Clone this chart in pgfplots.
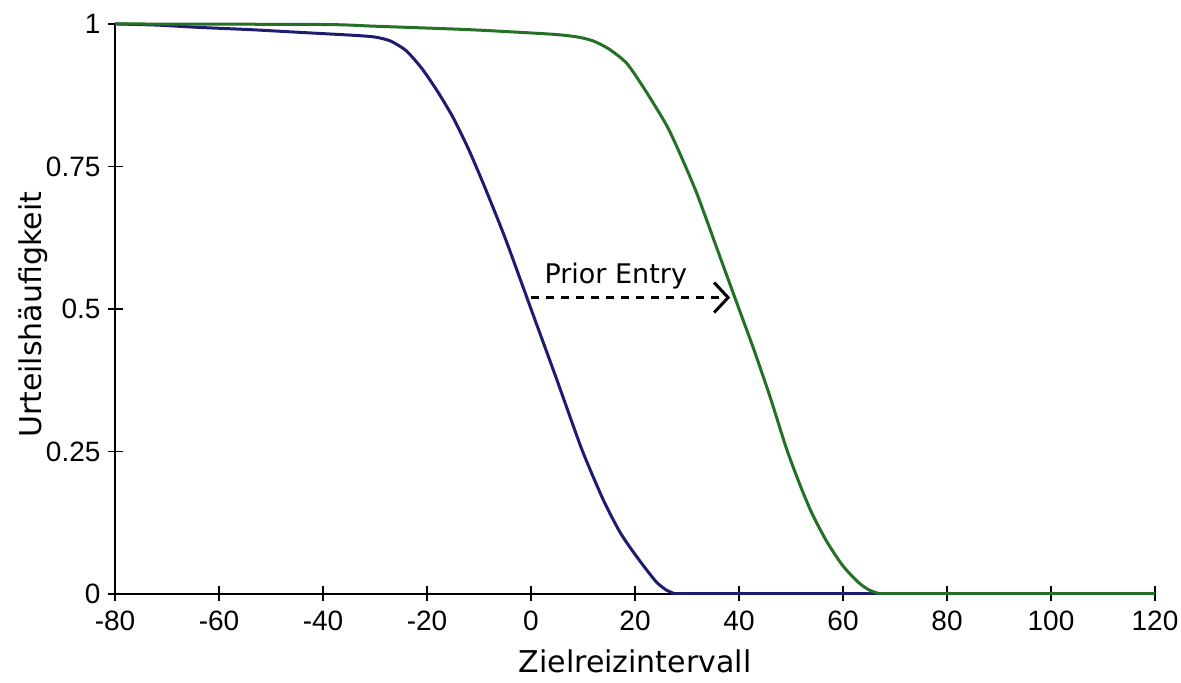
\documentclass[border=0pt]{standalone}
\usepackage{fontspec}
\setmainfont{DejaVu Sans}
\newfontfamily\ticfont{Liberation Sans}
\usepackage{pgfplots}
\pgfplotsset{compat=1.18}
\usetikzlibrary{arrows.meta}
\definecolor{cblue}{RGB}{30,28,110}
\definecolor{cgreen}{RGB}{36,112,36}
\begin{document}
\begin{tikzpicture}
\begin{axis}[
  width=520pt, height=285pt, scale only axis,
  xmin=-80, xmax=120, ymin=0, ymax=1,
  axis x line=bottom, axis y line=left,
  axis line style={-, line width=0.8pt, black},
  xtick={-80,-60,...,120},
  xticklabels={-80,-60,-40,-20,0,20,40,60,80,100,120},
  ytick={0,0.25,0.5,0.75,1},
  yticklabels={0,0.25,0.5,0.75,1},
  tick align=center, major tick length=7.5pt,
  tick style={line width=0.8pt, black},
  tick label style={font=\ticfont\fontsize{14}{16}\selectfont},
  xticklabel style={yshift=-1pt},
  yticklabel style={xshift=0pt},
  xlabel={Zielreizintervall}, ylabel={Urteilshäufigkeit},
  label style={font=\fontsize{15}{17}\selectfont},
  xlabel style={yshift=-3pt},
  ylabel style={yshift=-8pt, xshift=-3pt},
  clip=false,
]
\addplot[cblue, line width=1.5pt, smooth, tension=0.4] coordinates {
(-80,1.0) (-72,0.998) (-64,0.994) (-54,0.99) (-44,0.985) (-34,0.98) (-30,0.977)
(-27,0.97) (-24,0.953) (-21,0.922) (-18,0.882) (-15,0.836) (-12,0.78) (-9,0.716) (-5,0.625)
(0,0.5) (5,0.375) (9.8,0.253) (13.9,0.165) (17,0.11) (19.4,0.077) (22,0.045)
(24.2,0.02) (26,0.007) (27.7,0)
};
\addplot[cblue, line width=1.5pt] coordinates {(27.7,0) (120,0)};
\addplot[cgreen, line width=1.5pt, smooth, tension=0.4] coordinates {
(-80,1.0) (-40,0.999) (-30,0.996) (-12,0.99) (4,0.982) (9,0.977) (12,0.97) (15,0.956)
(18.5,0.93) (22.3,0.879) (26.2,0.82) (29,0.765) (32,0.70) (36,0.6) (40,0.5)
(43,0.425) (46,0.345) (49.2,0.253) (52,0.185) (54.2,0.138) (57,0.09) (60,0.049)
(63,0.02) (65,0.007) (67.1,0)
};
\addplot[cgreen, line width=1.5pt] coordinates {(67.1,0) (120,0)};
\draw[line width=1.5pt, dash pattern=on 4pt off 3.5pt, -{Straight Barb[length=7pt,width=15pt]}]
  (axis cs:0,0.52) -- (axis cs:38.3,0.52);
\node[font=\fontsize{13.5}{15}\selectfont] at (axis cs:16.3,0.557) {Prior Entry};
\coordinate (bl) at (rel axis cs:-0.1106,-0.156);
\coordinate (tr) at (rel axis cs:1.025,1.042);
\end{axis}
\pgfresetboundingbox
\path (bl) rectangle (tr);
\end{tikzpicture}
\end{document}
